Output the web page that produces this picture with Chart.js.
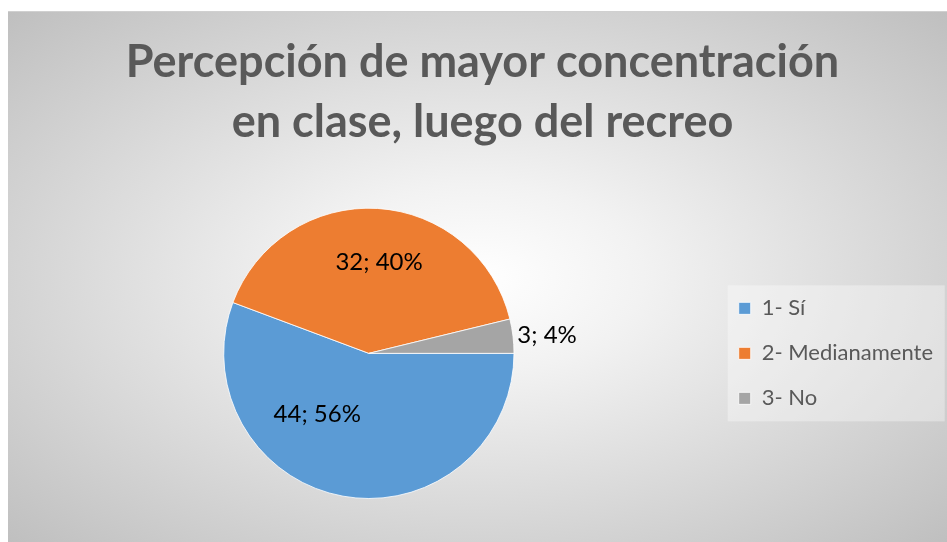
<!DOCTYPE html>
<html>
<head>
<meta charset="utf-8">
<script src="https://cdn.jsdelivr.net/npm/chart.js@4.4.1/dist/chart.umd.min.js"></script>
<style>
  html, body { margin: 0; padding: 0; background: #fff; }
  #wrap {
    position: absolute; left: 8px; top: 11px; width: 939px; height: 531px;
    border-top: 1px solid #d0d0d0;
    background: radial-gradient(ellipse farthest-corner at 50% 50%, #ffffff 0%, #f2f2f2 25%, #bfbfbf 100%);
  }
</style>
</head>
<body>
<div id="wrap"><canvas id="pieCanvas"></canvas></div>
<script>
const titleLines = ['Percepción de mayor concentración', 'en clase, luego del recreo'];
const categories = ['1- Sí', '2- Medianamente', '3- No'];
const counts = [44, 32, 3];
const percents = [56, 40, 4];
const sliceColors = ['#5B9BD5', '#ED7D31', '#A5A5A5'];

// draws "n; p%" labels from each arc's own geometry
const sliceLabels = {
    id: 'sliceLabels',
    afterDatasetsDraw(chart, args, opts) {
        const ctx = chart.ctx;
        const arcs = chart.getDatasetMeta(0).data;
        ctx.save();
        ctx.font = opts.font;
        ctx.fillStyle = opts.color;
        ctx.textBaseline = 'middle';
        arcs.forEach((arc, i) => {
            const p = arc.getProps(['x', 'y', 'startAngle', 'endAngle', 'outerRadius']);
            const tweak = opts.place[i];
            const mid = (p.startAngle + p.endAngle) / 2 + tweak.turn * Math.PI / 180;
            const r = p.outerRadius * tweak.dist;
            const x = p.x + Math.cos(mid) * r;
            const y = p.y + Math.sin(mid) * r;
            ctx.textAlign = tweak.align;
            ctx.fillText(counts[i] + '; ' + percents[i] + '%', x, y);
        });
        ctx.restore();
    }
};

// light panel behind the legend
const legendPanel = {
    id: 'legendPanel',
    beforeDraw(chart, args, opts) {
        const lg = chart.legend;
        if (!lg || !lg.legendHitBoxes.length) return;
        const boxes = lg.legendHitBoxes;
        const top = boxes[0].top - opts.padY;
        const bottom = boxes[boxes.length - 1].top + boxes[boxes.length - 1].height + opts.padY;
        const left = boxes[0].left - opts.padX;
        const ctx = chart.ctx;
        ctx.save();
        ctx.fillStyle = opts.color;
        ctx.fillRect(left, top, opts.width, bottom - top);
        ctx.restore();
    }
};

new Chart(document.getElementById('pieCanvas'), {
    type: 'pie',
    data: {
        labels: categories,
        datasets: [{
            data: counts,
            backgroundColor: sliceColors,
            borderColor: 'rgba(255,255,255,0.8)',
            borderWidth: 1
        }]
    },
    plugins: [sliceLabels, legendPanel],
    options: {
        responsive: true,
        maintainAspectRatio: false,
        animation: false,
        rotation: 90,
        layout: { padding: { left: 14, right: 4, bottom: 44 } },
        plugins: {
            title: {
                display: true,
                text: titleLines,
                color: '#595959',
                font: { family: 'Lato', size: 45, weight: 'bold', lineHeight: 1.33 },
                padding: { top: 21, bottom: 55 }
            },
            legend: {
                position: 'right',
                fullSize: false,
                labels: {
                    color: '#595959',
                    font: { family: 'Lato', size: 22 },
                    boxWidth: 12,
                    boxHeight: 12,
                    padding: 23
                }
            },
            tooltip: { enabled: false },
            sliceLabels: {
                font: '24px Lato',
                color: '#000',
                place: [
                    { turn: 30, dist: 0.55, align: 'center' },
                    { turn: 3, dist: 0.63, align: 'center' },
                    { turn: 0, dist: 1.03, align: 'left' }
                ]
            },
            legendPanel: { color: 'rgba(255,255,255,0.35)', padX: 11, padY: 12, width: 217 }
        }
    }
});
</script>
</body>
</html>
